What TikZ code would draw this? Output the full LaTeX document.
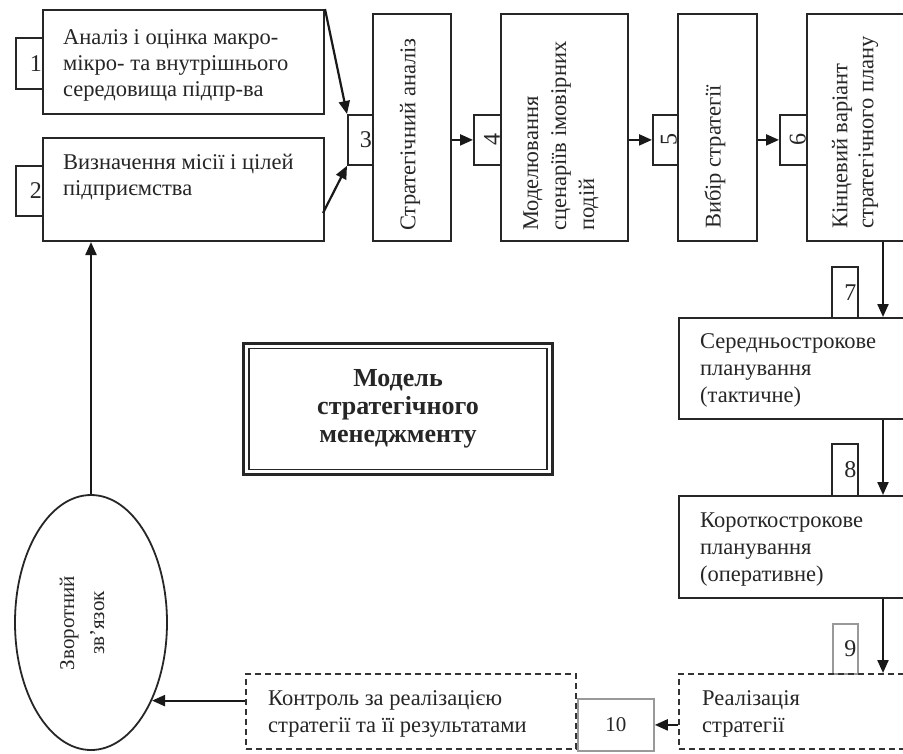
\documentclass[tikz,border=0pt]{standalone}
\usepackage{fontspec}
\setmainfont{Liberation Serif}
\usetikzlibrary{arrows.meta,shapes.geometric,fit}
\begin{document}
\begin{tikzpicture}[x=1pt,y=-1pt,
  box/.style={draw=black!85, line width=2pt, anchor=north west, inner sep=0pt, fill=white},
  dbox/.style={draw=black!80, line width=2pt, dash pattern=on 6pt off 4pt, anchor=north west, inner sep=0pt},
  tabbox/.style={draw=black!85, line width=1.8pt, anchor=north west, inner ysep=0pt, inner xsep=1pt, align=right, text=black!85, font=\fontsize{24}{26}\selectfont},
  gtab/.style={tabbox, draw=black!40},
  txt/.style={anchor=west, align=left, inner sep=0pt, text=black!85, font=\fontsize{22.5}{26}\selectfont},
  rtxt/.style={txt, rotate=90},
  arr/.style={draw=black!90, line width=2.2pt, -{Triangle[length=13pt,width=11pt]}}
]
\clip (0,0) rectangle (903,753);
\fill[white] (0,0) rectangle (903,753);

% tabs (drawn first, boxes overlap their right edges)
\node[tabbox, minimum width=27pt, minimum height=51pt, text width=25pt] (tab1) at (15,37) {1};
\node[tabbox, minimum width=27pt, minimum height=50pt, text width=25pt] (tab2) at (15,165) {2};
\node[tabbox, minimum width=25pt, minimum height=50pt, text width=23pt] (tab3) at (347,114) {3};
\node[tabbox, minimum width=27pt, minimum height=50pt, text width=25pt] (tab4) at (473,114) {\rotatebox{90}{4}};
\node[tabbox, minimum width=25pt, minimum height=50pt, text width=23pt] (tab5) at (652,114) {\rotatebox{90}{5}};
\node[tabbox, minimum width=27pt, minimum height=50pt, text width=25pt] (tab6) at (779,114) {\rotatebox{90}{6}};
\node[tabbox, minimum width=26pt, minimum height=51pt, text width=23pt] (tab7) at (831,266) {7};
\node[tabbox, minimum width=26pt, minimum height=52pt, text width=23pt] (tab8) at (831,443) {8};
\node[gtab, minimum width=25pt, minimum height=50pt, text width=22pt] (tab9) at (832,623) {9};
\node[gtab, minimum width=76pt, minimum height=52pt, text width=74pt, align=center, font=\fontsize{21}{23}\selectfont] (tab10) at (577,698) {10};

% main boxes
\node[box, minimum width=281pt, minimum height=104pt] (b1) at (42,9) {};
\node[box, minimum width=281pt, minimum height=103pt] (b2) at (42,137) {};
\node[box, minimum width=78pt, minimum height=227pt] (b3) at (372,13) {};
\node[box, minimum width=127pt, minimum height=227pt] (b4) at (500,13) {};
\node[box, minimum width=79pt, minimum height=227pt] (b5) at (677,13) {};
\node[box, minimum width=120pt, minimum height=227pt] (b6) at (806,13) {};
\node[box, minimum width=240pt, minimum height=101pt] (b7) at (678,317) {};
\node[box, minimum width=240pt, minimum height=102pt] (b8) at (678,495) {};
\node[dbox, minimum width=240pt, minimum height=75pt] (b9) at (678,673) {};
\node[dbox, minimum width=330pt, minimum height=75pt] (ctrl) at (245,673) {};

% texts
\node[txt] (t1) at (63,65) {Аналіз і оцінка макро-\\мікро- та внутрішнього\\середовища підпр-ва};
\node[txt] (t2) at (63,177) {Визначення місії і цілей\\підприємства};
\node[rtxt] (t3) at (410,231) {Стратегічний аналіз};
\node[rtxt, font=\fontsize{22.5}{28}\selectfont] (t4) at (561,231) {Моделювання\\сценаріїв імовірних\\подій};
\node[rtxt] (t5) at (715,229) {Вибір стратегії};
\node[rtxt] (t6) at (855,229) {Кінцевий варіант\\стратегічного плану};
\node[txt, font=\fontsize{22.5}{27}\selectfont] (t7) at (700,370) {Середньострокове\\планування\\(тактичне)};
\node[txt, font=\fontsize{22.5}{27}\selectfont] (t8) at (700,550) {Короткострокове\\планування\\(оперативне)};
\node[txt, font=\fontsize{22.5}{27}\selectfont] (t9) at (702,714) {Реалізація\\стратегії};
\node[txt, font=\fontsize{22.5}{27}\selectfont] (tc) at (268,714) {Контроль за реалізацією\\стратегії та її результатами};

% title
\node[draw=black!85, line width=1.6pt, minimum width=298pt, minimum height=121pt, align=center,
      font=\bfseries\fontsize{26}{28}\selectfont, text=black!85] (title) at (398,409)
      {Модель\\стратегічного\\менеджменту};
\node[draw=black!85, line width=3pt, fit=(title), inner sep=4.5pt] (titleout) {};

% feedback ellipse
\node[ellipse, draw=black!85, line width=1.8pt, minimum width=152pt, minimum height=255pt, inner sep=0pt] (ell) at (91,622.5) {};
\node[txt, rotate=90, anchor=center, align=center, font=\fontsize{21}{30}\selectfont] (te) at (82,623) {Зворотний\\зв’язок};

% connectors
\coordinate (a2s) at (323,213);
\coordinate (vx) at (883,0);
\draw[arr] (b1.north east) -- (tab3.north west);
\draw[arr] (a2s) -- (tab3.south west);
\draw[arr] (tab4.west -| b3.east) -- (tab4.west);
\draw[arr] (tab5.west -| b4.east) -- (tab5.west);
\draw[arr] (tab6.west -| b5.east) -- (tab6.west);
\draw[arr] (b6.south -| vx) -- (b7.north -| vx);
\draw[arr] (b7.south -| vx) -- (b8.north -| vx);
\draw[arr] (b8.south -| vx) -- (b9.north -| vx);
\draw[arr] (tab10.east -| b9.west) -- (tab10.east);
\draw[arr] (ell.-52 -| ctrl.west) -- (ell.-52);
\draw[arr] (ell.north) -- (ell.north |- b2.south);
\end{tikzpicture}
\end{document}
